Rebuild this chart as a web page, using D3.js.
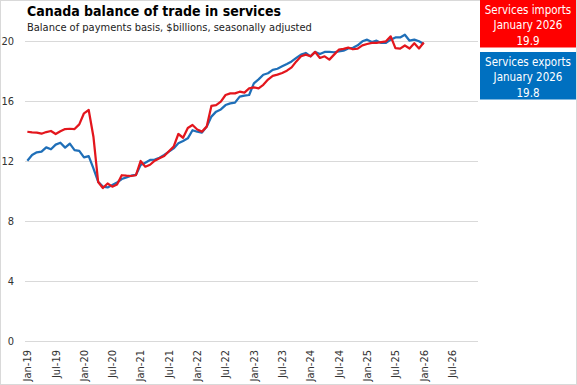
<!DOCTYPE html>
<html>

<head>
  <meta charset="utf8">
  <script src="https://d3js.org/d3.v7.min.js"></script>
  <style>
    body { margin: 0; background: #fff; }
    text { font-family: "Liberation Sans Narrow", "DejaVu Sans Condensed", Roboto, sans-serif; }
    .title { font-weight: bold; font-size: 14px; fill: #000; }
    .subtitle { font-size: 11px; fill: #222; }
    .tick text { font-size: 11px; fill: #333; }
    .box text { font-size: 11.5px; fill: #fff; text-anchor: middle; }
  </style>
</head>

<body>
  <svg id="chart" width="577" height="385"></svg>
  <script>
    var tickLabels = ['Jan-19', 'Jul-19', 'Jan-20', 'Jul-20', 'Jan-21', 'Jul-21', 'Jan-22', 'Jul-22',
      'Jan-23', 'Jul-23', 'Jan-24', 'Jul-24', 'Jan-25', 'Jul-25', 'Jan-26', 'Jul-26'];
    var yTicks = [0, 4, 8, 12, 16, 20];

    // monthly, Jan 2019 - Jan 2026
    var exportsVals = [12.02, 12.4, 12.58, 12.62, 12.91, 12.78, 13.09, 13.22, 12.89, 13.16, 12.73, 12.67,
      12.24, 12.33, 11.51, 10.62, 10.29, 10.24, 10.4, 10.56, 10.8, 10.91, 11.02, 11.07,
      11.73, 11.89, 12.07, 12.09, 12.22, 12.4, 12.62, 12.84, 13.18, 13.33, 13.51, 14.05,
      13.95, 13.89, 14.29, 14.96, 15.29, 15.44, 15.73, 15.84, 15.89, 16.29, 16.36, 16.4,
      17.18, 17.44, 17.75, 17.85, 18.08, 18.15, 18.31, 18.47, 18.64, 18.87, 19.09, 19.2,
      18.98, 19.27, 19.13, 19.27, 19.27, 19.25, 19.31, 19.36, 19.5, 19.55, 19.71, 19.98,
      20.09, 19.93, 20.02, 19.87, 19.87, 20.09, 20.24, 20.24, 20.42, 20.02, 20.09, 19.98,
      19.8];
    var importsVals = [13.95, 13.91, 13.89, 13.82, 13.93, 14.0, 13.8, 13.98, 14.13, 14.15, 14.13, 14.44,
      15.18, 15.4, 13.62, 10.6, 10.2, 10.5, 10.29, 10.44, 11.05, 11.02, 11.0, 11.05,
      12.0, 11.62, 11.75, 12.02, 12.18, 12.33, 12.65, 12.96, 13.8, 13.55, 14.2, 14.4,
      14.1, 13.96, 14.29, 15.67, 15.73, 15.96, 16.4, 16.51, 16.51, 16.62, 16.56, 16.84,
      16.91, 16.84, 17.08, 17.43, 17.68, 17.76, 17.87, 18.02, 18.24, 18.64, 18.98, 19.09,
      18.98, 19.27, 18.87, 18.98, 18.76, 19.09, 19.42, 19.48, 19.56, 19.45, 19.49, 19.71,
      19.8, 19.87, 19.87, 19.93, 19.98, 20.31, 19.53, 19.49, 19.7, 19.5, 19.85, 19.5,
      19.9];

    var boxTitles = ['Services imports', 'Services exports'];
    var boxPeriod = 'January 2026';
    var boxValues = [19.9, 19.8];

    var svg = d3.select('#chart');
    var fmt = d3.utcFormat('%b-%y');
    var months = d3.utcMonth.range(new Date(Date.UTC(2019, 0, 1)), new Date(Date.UTC(2027, 0, 1)));

    var x = d3.scaleBand().domain(months.map(fmt)).range([25, 478]);
    var y = d3.scaleLinear().domain([0, 20]).range([341, 41]);

    // outer frame
    svg.append('rect').attr('x', 0.5).attr('y', 0.5).attr('width', 576).attr('height', 384)
      .attr('fill', 'none').attr('stroke', '#d9d9d9');

    svg.append('text').attr('class', 'title').attr('x', 27).attr('y', 16)
      .text('Canada balance of trade in services');
    svg.append('text').attr('class', 'subtitle').attr('x', 27).attr('y', 31)
      .text('Balance of payments basis, $billions, seasonally adjusted');

    var yAxis = svg.append('g').attr('transform', 'translate(25,0)')
      .call(d3.axisLeft(y).tickValues(yTicks).tickSize(-453).tickPadding(11));
    yAxis.select('.domain').remove();
    yAxis.selectAll('.tick line').attr('stroke', '#d9d9d9');

    var xAxis = svg.append('g').attr('transform', 'translate(0,341)')
      .call(d3.axisBottom(x).tickValues(tickLabels).tickSize(0));
    xAxis.select('.domain').remove();
    xAxis.selectAll('.tick text')
      .attr('transform', 'rotate(-90)')
      .attr('x', -9).attr('y', 0).attr('dy', '0.35em')
      .style('text-anchor', 'end');

    var line = d3.line()
      .x((d, i) => x(fmt(months[i])) + x.bandwidth() / 2)
      .y((d) => y(d));

    svg.append('path').datum(exportsVals)
      .attr('fill', 'none').attr('stroke', '#1f6fb8').attr('stroke-width', 2.25)
      .attr('stroke-linejoin', 'round').attr('d', line);
    svg.append('path').datum(importsVals)
      .attr('fill', 'none').attr('stroke', '#e3161d').attr('stroke-width', 2.25)
      .attr('stroke-linejoin', 'round').attr('d', line);

    var boxColors = ['#ff0000', '#0070c0'];
    var box = svg.selectAll('.box').data(boxTitles).enter().append('g')
      .attr('class', 'box')
      .attr('transform', (d, i) => 'translate(480,' + (i * 52) + ')');
    box.append('rect').attr('width', 96).attr('height', 47.5).attr('fill', (d, i) => boxColors[i]);
    box.append('text').attr('x', 48).attr('y', 13.5).text((d) => d);
    box.append('text').attr('x', 48).attr('y', 29).text(boxPeriod);
    box.append('text').attr('x', 48).attr('y', 44.5).text((d, i) => boxValues[i].toFixed(1));
  </script>
</body>

</html>
